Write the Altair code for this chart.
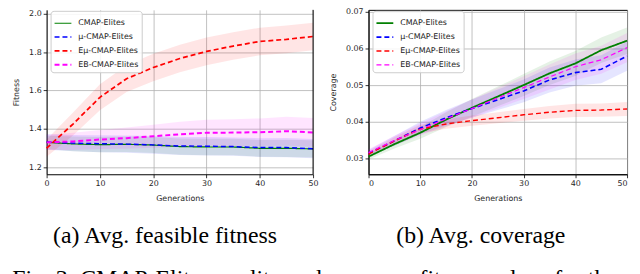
import altair as alt
import pandas as pd

# ---------------- data ----------------
gens = [0, 5, 10, 15, 20, 25, 30, 35, 40, 45, 50]
series = ["CMAP-Elites", "μ-CMAP-Elites", "Eμ-CMAP-Elites", "EB-CMAP-Elites"]
colors = ["#008000", "#0000ff", "#ff0000", "#ff00ff"]

# (a) average feasible fitness
fit_cmap = [1.330, 1.322, 1.318, 1.320, 1.316, 1.308, 1.306, 1.306, 1.299, 1.299, 1.296]
fit_mu = [1.332, 1.326, 1.323, 1.321, 1.317, 1.311, 1.310, 1.308, 1.303, 1.303, 1.297]
fit_emu = [1.300, 1.427, 1.565, 1.662, 1.720, 1.767, 1.804, 1.832, 1.856, 1.867, 1.882]
fit_eb = [1.330, 1.335, 1.345, 1.352, 1.362, 1.372, 1.380, 1.381, 1.383, 1.388, 1.382]
fit_cmap_sd = [0.035, 0.038, 0.040, 0.040, 0.042, 0.042, 0.043, 0.043, 0.044, 0.045, 0.045]
fit_mu_sd = [0.040, 0.042, 0.044, 0.045, 0.046, 0.047, 0.048, 0.048, 0.049, 0.050, 0.050]
fit_emu_sd = [0.045, 0.060, 0.068, 0.070, 0.072, 0.072, 0.072, 0.072, 0.072, 0.072, 0.072]
fit_eb_sd = [0.040, 0.045, 0.050, 0.055, 0.060, 0.065, 0.068, 0.070, 0.072, 0.075, 0.075]

# (b) average coverage
cov_cmap = [0.0305, 0.0339, 0.0370, 0.0406, 0.0438, 0.0469, 0.0500, 0.0532, 0.0559, 0.0595, 0.0621]
cov_mu = [0.0314, 0.0348, 0.0383, 0.0411, 0.0436, 0.0460, 0.0484, 0.0514, 0.0534, 0.0543, 0.0579]
cov_emu = [0.0312, 0.0348, 0.0380, 0.0394, 0.0403, 0.0411, 0.0419, 0.0426, 0.0431, 0.0432, 0.0435]
cov_eb = [0.0316, 0.0349, 0.0379, 0.0408, 0.0436, 0.0465, 0.0493, 0.0522, 0.0550, 0.0569, 0.0602]
cov_cmap_sd = [0.0008, 0.0012, 0.0016, 0.0020, 0.0024, 0.0027, 0.0030, 0.0032, 0.0034, 0.0035, 0.0036]
cov_mu_sd = [0.0009, 0.0013, 0.0017, 0.0021, 0.0025, 0.0028, 0.0031, 0.0034, 0.0036, 0.0038, 0.0040]
cov_emu_sd = [0.0008, 0.0010, 0.0012, 0.0013, 0.0014, 0.0015, 0.0016, 0.0017, 0.0018, 0.0018, 0.0019]
cov_eb_sd = [0.0009, 0.0013, 0.0017, 0.0021, 0.0025, 0.0028, 0.0031, 0.0034, 0.0036, 0.0038, 0.0040]

fit_ticks = [1.2, 1.4, 1.6, 1.8, 2.0]
cov_ticks = [0.03, 0.04, 0.05, 0.06, 0.07]
x_ticks = [0, 10, 20, 30, 40, 50]

caption_a = "(a) Avg. feasible fitness"
caption_b = "(b) Avg. coverage"
fig_caption = "Fig. 3: CMAP-Elites quality and coverage fitness values for th"


def long_df(means, sds):
    rows = []
    for name, m, s in zip(series, means, sds):
        for g, v, d in zip(gens, m, s):
            rows.append({"gen": g, "series": name, "mean": v, "lo": v - d, "hi": v + d})
    return pd.DataFrame(rows)


def panel(df, ydom, yvals, yfmt, ytitle, widths, w, caption, cap_dx, box):
    xax = alt.Axis(values=x_ticks, title="Generations", format="d", labelFlush=box)
    yax = alt.Axis(values=yvals, title=ytitle, format=yfmt)
    xs = alt.Scale(domain=[0, 50], nice=False)
    ys = alt.Scale(domain=ydom, nice=False, zero=False)
    leg = alt.Legend(
        title=None, orient="none", legendX=4, legendY=1,
        symbolType="stroke", symbolSize=289,
        labelFont="DejaVu Sans", labelFontSize=8, labelColor="#222222", labelOffset=6,
        fillColor="rgba(255,255,255,0.85)", strokeColor="#cccccc", cornerRadius=3,
        padding=3, rowPadding=-4.5,
    )
    layers = []
    for name, c in zip(series, colors):
        layers.append(
            alt.Chart(df).transform_filter(alt.datum.series == name)
            .mark_area(color=c, opacity=0.1)
            .encode(
                x=alt.X("gen:Q", scale=xs, axis=xax),
                y=alt.Y("lo:Q", scale=ys, axis=yax),
                y2="hi:Q",
            )
        )
    line = alt.Chart(df).mark_line().encode(
        x=alt.X("gen:Q", scale=xs, axis=xax),
        y=alt.Y("mean:Q", scale=ys, axis=yax),
        color=alt.Color("series:N", scale=alt.Scale(domain=series, range=colors), legend=leg),
        strokeDash=alt.StrokeDash("series:N", scale=alt.Scale(domain=series, range=[[1, 0], [5, 3], [5, 3], [5, 3]]), legend=leg),
        strokeWidth=alt.StrokeWidth("series:N", scale=alt.Scale(domain=series, range=widths), legend=leg),
    )
    layers.append(line)
    if not box:
        edge = alt.Chart(pd.DataFrame({"e": [0]})).mark_rule(color="black", strokeWidth=1).encode(x=alt.datum(50))
        layers.append(edge)
    view = alt.ViewBackground(stroke="black", strokeWidth=1) if box else alt.ViewBackground(stroke="transparent")
    return alt.layer(*layers).properties(
        width=w, height=166, view=view,
        title=alt.TitleParams(caption, orient="bottom", anchor="start", frame="group", dx=cap_dx, offset=22,
                              font="Liberation Serif", fontSize=24, fontWeight="normal", color="black"),
    )


left = panel(long_df([fit_cmap, fit_mu, fit_emu, fit_eb], [fit_cmap_sd, fit_mu_sd, fit_emu_sd, fit_eb_sd]),
             [1.1638, 2.0207], fit_ticks, ".1f", "Fitness", [1.2, 2.0, 2.0, 1.6], 269, caption_a, 6.5, False)
right = panel(long_df([cov_cmap, cov_mu, cov_emu, cov_eb], [cov_cmap_sd, cov_mu_sd, cov_emu_sd, cov_eb_sd]),
              [0.0257, 0.0705], cov_ticks, ".2f", "Coverage", [1.8, 1.2, 2.0, 2.0], 261, caption_b, 28, True)

chart = alt.hconcat(
    left, right, spacing=10,
    title=alt.TitleParams(fig_caption, orient="bottom", anchor="start", offset=19,
                          font="Liberation Serif", fontSize=24, fontWeight="normal", color="black"),
).resolve_scale(
    color="independent", strokeDash="independent", strokeWidth="independent"
).resolve_legend(
    color="independent", strokeDash="independent", strokeWidth="independent"
).properties(
    padding={"left": 4, "top": -2.5, "right": 0, "bottom": 0}
).configure_axis(
    labelFont="DejaVu Sans", labelFontSize=8, labelColor="#262626",
    titleFont="DejaVu Sans", titleFontSize=8, titleFontWeight="normal", titleColor="#262626",
    gridColor="#b0b0b0", gridWidth=0.8, domainColor="black", domainWidth=1,
    tickColor="black", tickSize=3.5, tickWidth=0.8, labelPadding=2,
).configure_axisX(titlePadding=7).configure_axisY(titlePadding=8)

chart.save("out.html", embed_options={"renderer": "svg", "actions": False})
